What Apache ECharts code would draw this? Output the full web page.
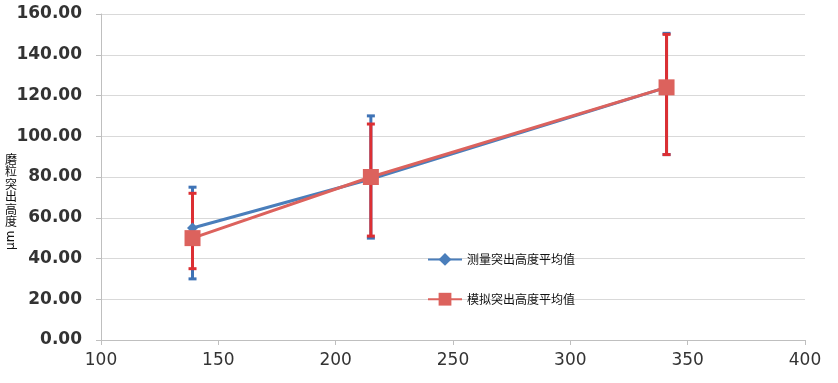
<!DOCTYPE html>
<html><head><meta charset="utf-8">
<script src="https://cdn.jsdelivr.net/npm/echarts@6/dist/echarts.min.js"></script>
<style>html,body{margin:0;padding:0;background:#fff}#c{width:838px;height:383px}</style>
</head><body><div id="c"></div>
<script>
const xValues = [139, 215, 341];
const measuredMean = [55, 79, 124];
const measuredHigh = [75, 110, 150.5];
const measuredLow = [30, 50, 91];
const simulatedMean = [50, 80, 124];
const simulatedHigh = [72, 106, 150];
const simulatedLow = [35, 51, 91];
const seriesNames = ['测量突出高度平均值', '模拟突出高度平均值'];
const yTitle = '磨粒突出高度';
const yUnit = 'μm';

const blue = '#4a7ebb', blueErr = '#3f73b6';
const red = '#dc625d', redErr = '#dc2f33';

function pairs(xs, ys) { return xs.map((x, i) => [x, ys[i]]); }
function errData(xs, lo, hi) { return xs.map((x, i) => [x, lo[i], hi[i]]); }
function errSeries(data, color, z) {
  return {
    type: 'custom', z: z, silent: true,
    data: data,
    encode: { x: 0, y: [1, 2] },
    renderItem: function (params, api) {
      const x = api.value(0);
      const lo = api.coord([x, api.value(1)]);
      const hi = api.coord([x, api.value(2)]);
      const cw = 4;
      const st = { stroke: color, lineWidth: 3 };
      return { type: 'group', children: [
        { type: 'line', shape: { x1: lo[0], y1: lo[1], x2: hi[0], y2: hi[1] }, style: st },
        { type: 'line', shape: { x1: lo[0] - cw, y1: lo[1], x2: lo[0] + cw, y2: lo[1] }, style: st },
        { type: 'line', shape: { x1: hi[0] - cw, y1: hi[1], x2: hi[0] + cw, y2: hi[1] }, style: st }
      ]};
    }
  };
}

const titleChars = yTitle.split('').map((ch, i) => ({
  type: 'text', x: 5, y: 153 + i * 12.5,
  style: { text: ch, fontSize: 12, fill: '#111', fontFamily: 'Noto Sans CJK SC', verticalAlign: 'top' }
}));

const chart = echarts.init(document.getElementById('c'), null, { renderer: 'canvas' });
chart.setOption({
  animation: false,
  backgroundColor: '#fff',
  grid: { left: 101, right: 33, top: 14, bottom: 43, containLabel: false },
  xAxis: {
    type: 'value', min: 100, max: 400, interval: 50,
    axisLine: { show: true, lineStyle: { color: '#bfbfbf', width: 1 } },
    axisTick: { show: true, length: 5, lineStyle: { color: '#bfbfbf' } },
    splitLine: { show: false },
    axisLabel: { color: '#333', fontSize: 17, fontFamily: 'DejaVu Sans', margin: 12 }
  },
  yAxis: {
    type: 'value', min: 0, max: 160, interval: 20,
    axisLine: { show: true, lineStyle: { color: '#bfbfbf', width: 1 } },
    axisTick: { show: true, length: 5, lineStyle: { color: '#bfbfbf' } },
    splitLine: { show: true, lineStyle: { color: '#d9d9d9', width: 1 } },
    axisLabel: { color: '#333', fontSize: 17, fontWeight: 'bold', fontFamily: 'DejaVu Sans', margin: 19,
      formatter: v => v.toFixed(2) }
  },
  legend: {
    orient: 'vertical', left: 422, top: 248, itemGap: 27,
    itemWidth: 34, itemHeight: 16,
    textStyle: { fontSize: 12, color: '#111', fontFamily: 'Noto Sans CJK SC' },
    data: seriesNames
  },
  graphic: titleChars.concat([
    { type: 'text', x: 5, y: 250, rotation: Math.PI / 2, style: { text: yUnit, fontSize: 12, fill: '#111', fontFamily: 'DejaVu Sans', verticalAlign: 'top' } }
  ]),
  series: [
    errSeries(errData(xValues, measuredLow, measuredHigh), blueErr, 3),
    errSeries(errData(xValues, simulatedLow, simulatedHigh), redErr, 4),
    {
      name: seriesNames[0], type: 'line', z: 5,
      data: pairs(xValues, measuredMean),
      symbol: 'diamond', symbolSize: 11,
      lineStyle: { color: blue, width: 3 },
      itemStyle: { color: blue }
    },
    {
      name: seriesNames[1], type: 'line', z: 6,
      data: pairs(xValues, simulatedMean),
      symbol: 'rect', symbolSize: 16,
      lineStyle: { color: red, width: 3 },
      itemStyle: { color: red }
    }
  ]
});
</script></body></html>
